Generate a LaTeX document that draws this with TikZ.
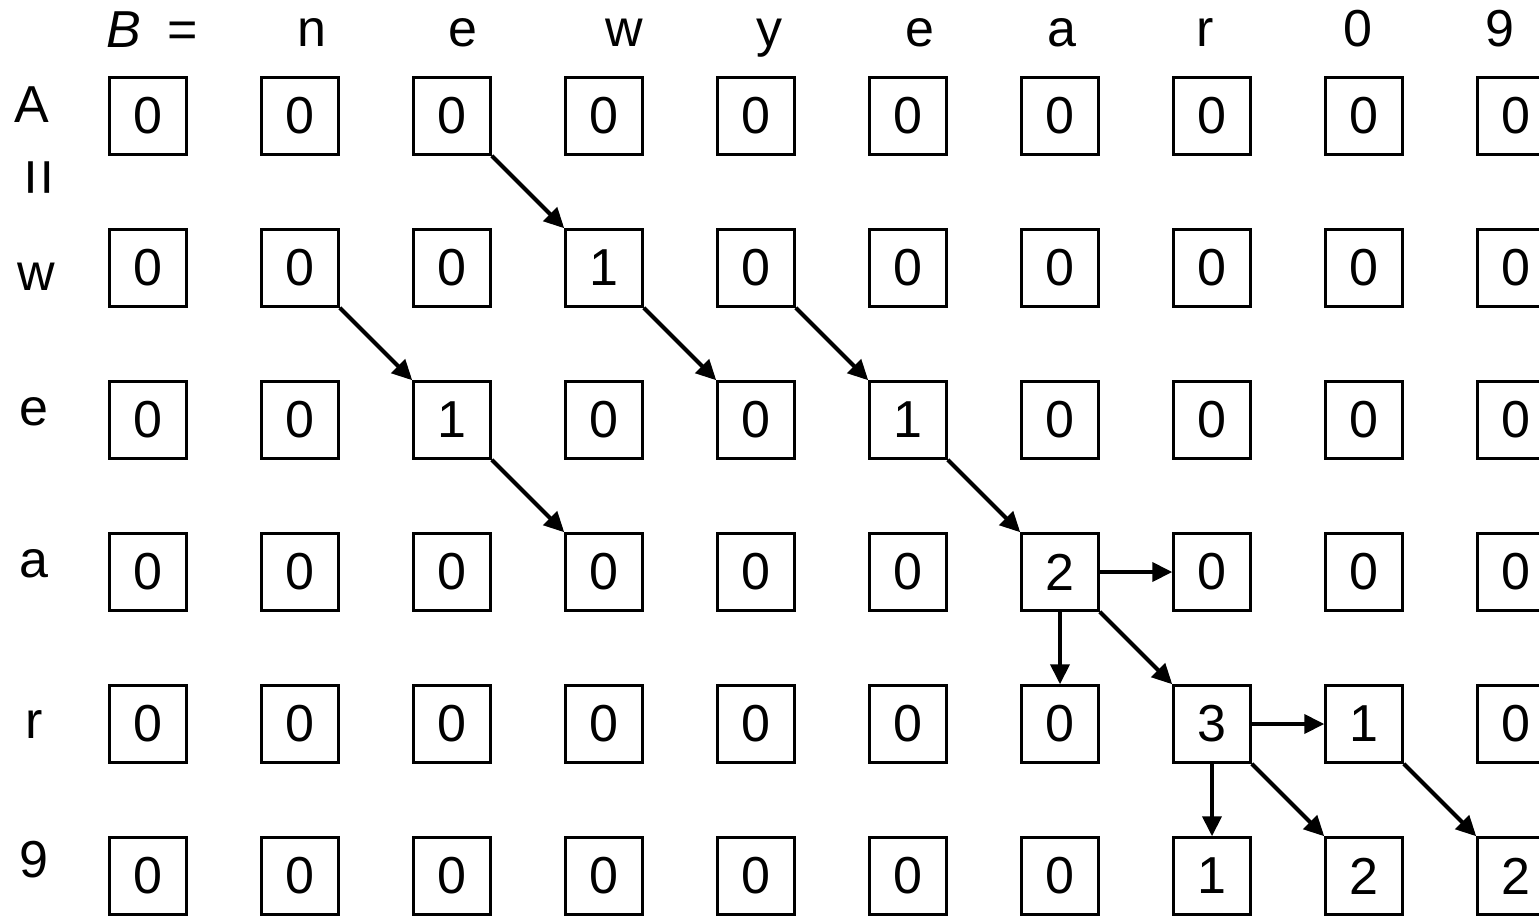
\documentclass[tikz,border=0pt]{standalone}
\usepackage{fontspec}
\setmainfont{Liberation Sans}
\usetikzlibrary{arrows.meta}
\begin{document}
\begin{tikzpicture}[x=1pt,y=-1pt,
  every node/.style={font=\fontsize{52}{60}\selectfont, inner sep=0pt},
  cell/.style={draw, line width=2.5pt, minimum size=77pt},
  lbl/.style={anchor=base},
  arr/.style={line width=4pt, -{Triangle[length=20pt,width=19pt]}}]
\useasboundingbox (0,0) rectangle (1539,919);
\clip (0,0) rectangle (1539,919);
% header
\node[lbl] (hB) at (124,47) {\itshape B};
\node[lbl] (heq) at (183,47) {=};
\foreach \t/\x [count=\i] in {n/312, e/463, w/624, y/769, e/920, a/1062, r/1205, 0/1358, 9/1500}
  \node[lbl] (h\i) at (\x,46) {\t};
% left labels
\node[lbl] (lA) at (32,122) {A};
\node[rotate=90, scale=1.25] (leq) at (45,178) {=};
\node[lbl] (lw) at (36,290) {w};
\node[lbl] (le) at (34,425) {e};
\node[lbl] (la) at (34,577) {a};
\node[lbl] (lr) at (34,738) {r};
\node[lbl] (l9) at (34,877) {9};
% cells
\foreach \row [count=\r from 0] in {
  {0,0,0,0,0,0,0,0,0,0},
  {0,0,0,1,0,0,0,0,0,0},
  {0,0,1,0,0,1,0,0,0,0},
  {0,0,0,0,0,0,2,0,0,0},
  {0,0,0,0,0,0,0,3,1,0},
  {0,0,0,0,0,0,0,1,2,2}} {
  \foreach \v [count=\c from 0] in \row
    \node[cell] (c-\r-\c) at (148+152*\c,116+152*\r) {\v};
}
% arrows
\draw[arr] (c-0-2.south east) -- (c-1-3.north west);
\draw[arr] (c-1-1.south east) -- (c-2-2.north west);
\draw[arr] (c-1-3.south east) -- (c-2-4.north west);
\draw[arr] (c-1-4.south east) -- (c-2-5.north west);
\draw[arr] (c-2-2.south east) -- (c-3-3.north west);
\draw[arr] (c-2-5.south east) -- (c-3-6.north west);
\draw[arr] (c-3-6.east) -- (c-3-7.west);
\draw[arr] (c-3-6.south) -- (c-4-6.north);
\draw[arr] (c-3-6.south east) -- (c-4-7.north west);
\draw[arr] (c-4-7.east) -- (c-4-8.west);
\draw[arr] (c-4-7.south) -- (c-5-7.north);
\draw[arr] (c-4-7.south east) -- (c-5-8.north west);
\draw[arr] (c-4-8.south east) -- (c-5-9.north west);
\end{tikzpicture}
\end{document}
